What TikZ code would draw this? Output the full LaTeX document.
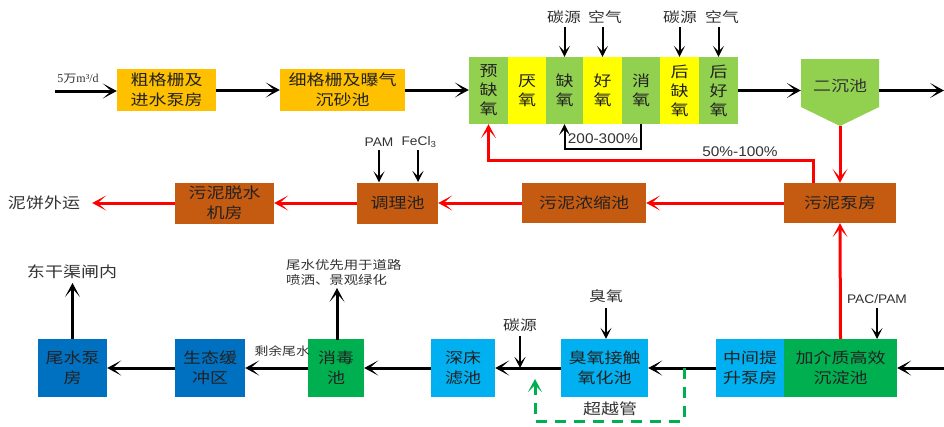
\documentclass[tikz,border=0pt]{standalone}
\usepackage{fontspec}
\newfontfamily\cjk[FakeStretch=1.2]{Noto Sans CJK SC}
\newfontfamily\latin[FakeStretch=1.1]{Liberation Sans}
\newfontfamily\serifl{Liberation Serif}
\usetikzlibrary{arrows.meta}
\definecolor{orangeY}{HTML}{FFC000}
\definecolor{lgreen}{HTML}{92D050}
\definecolor{yel}{HTML}{FFFF00}
\definecolor{brownb}{HTML}{C55A11}
\definecolor{lblue}{HTML}{00B0F0}
\definecolor{dgreen}{HTML}{00B050}
\definecolor{dblue}{HTML}{0070C0}
\definecolor{txt}{HTML}{222222}
\definecolor{lbl}{HTML}{333333}
\tikzset{
  box/.style={draw=none, inner sep=0pt, align=center, text=txt,
    font=\cjk\fontsize{15}{20}\selectfont},
  cell/.style={box, minimum height=67pt, font=\cjk\fontsize{15}{19}\selectfont},
  lab/.style={inner sep=0pt, text=lbl, align=center, font=\cjk\fontsize{14}{18}\selectfont},
  smalllab/.style={inner sep=0pt, text=lbl, align=left, font=\cjk\fontsize{12}{15}\selectfont},
  latlab/.style={inner sep=0pt, text=lbl, font=\latin\fontsize{12.5}{14}\selectfont},
  bigarr/.style={line width=3pt, -{Stealth[length=14pt,width=15pt,inset=8.5pt]}},
  redarr/.style={bigarr, draw=red, color=red},
  redline/.style={line width=3pt, draw=red},
  smallarr/.style={line width=2pt, -{Stealth[length=11pt,width=11pt,inset=5.5pt]}},
  bypass/.style={line width=3pt, draw=dgreen, dash pattern=on 11pt off 8pt,
    -{Stealth[length=13pt,width=14pt,inset=7pt,color=dgreen]}}
}
\begin{document}
\begin{tikzpicture}[x=1pt,y=-1pt]
\useasboundingbox (0,0) rectangle (944,426);
\fill[white] (0,0) rectangle (944,426);

% ---- top row ----
\node[latlab, font=\serifl\fontsize{12}{14}\selectfont] (inflow) at (78,79) {5{\cjk\fontsize{11}{12}\selectfont 万}m³/d};
\coordinate (inL) at (55,91);
\node[box, fill=orangeY, minimum width=99pt, minimum height=42pt] (cu) at (166.5,90) {粗格栅及\\进水泵房};
\node[box, fill=orangeY, minimum width=125pt, minimum height=42pt] (xi) at (342.5,90) {细格栅及曝气\\沉砂池};

\node[cell, fill=lgreen, minimum width=39pt] (a1) at (488.5,90.5) {预\\缺\\氧};
\node[cell, fill=yel,    minimum width=38pt] (a2) at (527,90.5) {厌\\氧};
\node[cell, fill=lgreen, minimum width=37pt] (a3) at (564.5,90.5) {缺\\氧};
\node[cell, fill=yel,    minimum width=39pt] (a4) at (602.5,90.5) {好\\氧};
\node[cell, fill=lgreen, minimum width=38pt] (a5) at (641,90.5) {消\\氧};
\node[cell, fill=yel,    minimum width=39pt] (a6) at (679.5,90.5) {后\\缺\\氧};
\node[cell, fill=lgreen, minimum width=39pt] (a7) at (718.5,90.5) {后\\好\\氧};

\node[lab] (c1) at (564,17) {碳源};
\node[lab] (k1) at (605,17) {空气};
\node[lab] (c2) at (680,17) {碳源};
\node[lab] (k2) at (722,17) {空气};
\draw[smallarr] (a3.north |- 0,27) -- (a3.north);
\draw[smallarr] (a4.north |- 0,27) -- (a4.north);
\draw[smallarr] (a6.north |- 0,27) -- (a6.north);
\draw[smallarr] (a7.north |- 0,27) -- (a7.north);

% internal recycle
\draw[smallarr] (a5.south) -- ++(0,25) -| (a3.south);
\node[latlab, font=\latin\fontsize{14}{16}\selectfont] (r1) at (603,139) {200-300\%};

% secondary clarifier
\fill[lgreen] (801,59) -- (879,59) -- (879,107) -- (840,126) -- (801,107) -- cycle;
\node[box, text=lbl, minimum width=78pt, minimum height=54pt] (er) at (840,86) {二沉池};
\coordinate (tip) at (840,126);
\coordinate (outR) at (944,90.5);

\draw[bigarr] (inL) -- (inL -| cu.west);
\draw[bigarr] (cu.east) -- (xi.west);
\draw[bigarr] (xi.east) -- (xi.east -| a1.west);
\draw[bigarr] (a7.east) -- (a7.east -| er.west);
\draw[bigarr] (er.east |- outR) -- (outR);

% ---- sludge row ----
\node[box, fill=brownb, minimum width=112pt, minimum height=40pt] (wn) at (840,203) {污泥泵房};
\node[box, fill=brownb, minimum width=124pt, minimum height=40pt] (ns) at (584,203) {污泥浓缩池};
\node[box, fill=brownb, minimum width=81pt, minimum height=41pt] (tl) at (397.5,203) {调理池};
\node[box, fill=brownb, minimum width=99pt, minimum height=41pt] (ts) at (224.5,203) {污泥脱水\\机房};
\node[lab, font=\cjk\fontsize{15}{18}\selectfont] (nb) at (44,203) {泥饼外运};

\draw[redarr] (tip) -- (wn.north);
\draw[redarr] ([xshift=-27pt]wn.north) -- ++(0,-22) -| (a1.south);
\node[latlab, font=\latin\fontsize{14}{16}\selectfont] (r2) at (740,152) {50\%-100\%};
\draw[redarr] (wn.west) -- (ns.east);
\draw[redarr] (ns.west) -- (tl.east);
\draw[redarr] (tl.west) -- (ts.east);
\draw[redarr] (ts.west) -- ([xshift=12pt]nb.east);

\node[latlab] (pam) at (379,142) {PAM};
\node[latlab] (fecl) at (419,142) {FeCl\textsubscript{3}};
\coordinate (fct) at (418,182);
\draw[smallarr] (pam.south |- 0,150) -- (pam.south |- tl.north);
\draw[smallarr] (fct |- 0,150) -- (fct);

% ---- bottom row ----
\node[box, fill=dgreen, minimum width=113pt, minimum height=58pt] (jj) at (840.5,368) {加介质高效\\沉淀池};
\node[box, fill=lblue, minimum width=68pt, minimum height=58pt] (zj) at (750,368) {中间提\\升泵房};
\node[box, fill=lblue, minimum width=87pt, minimum height=58pt] (cy) at (604.5,368) {臭氧接触\\氧化池};
\node[box, fill=lblue, minimum width=64pt, minimum height=58pt] (sc) at (463,368) {深床\\滤池};
\node[box, fill=dgreen, minimum width=56pt, minimum height=58pt] (xd) at (336,368) {消毒\\池};
\node[box, fill=dblue, minimum width=70pt, minimum height=58pt] (st) at (210,368) {生态缓\\冲区};
\node[box, fill=dblue, minimum width=69pt, minimum height=58pt] (ws) at (72.5,368) {尾水泵\\房};

\coordinate (inR) at (944,368);
\draw[bigarr] (inR) -- (jj.east);
\draw[redarr] (jj.north) -- (wn.south);
\draw[bigarr] (zj.west) -- (cy.east);
\draw[bigarr] (cy.west) -- (sc.east);
\draw[bigarr] (sc.west) -- (xd.east);
\draw[bigarr] (xd.west) -- (st.east);
\draw[bigarr] (st.west) -- (ws.east);

\node[latlab] (pac) at (877,299) {PAC/PAM};
\coordinate (pact) at (877,339);
\draw[smallarr] (pact |- 0,308) -- (pact);
\node[lab] (cyo) at (606,296) {臭氧};
\draw[smallarr] (cyo.south |- 0,308) -- (cyo.south |- cy.north);
\node[lab] (c3) at (520,325) {碳源};
\coordinate (c3t) at (520,368);
\draw[smallarr] (c3.south |- 0,336) -- (c3t);

\coordinate (bpA) at (684,368);
\coordinate (bpB) at (535,379);
\draw[bypass] (bpA) -- (684,421) -- (535,421) -- (bpB);
\node[lab, font=\cjk\fontsize{15}{18}\selectfont] (cyg) at (610,409) {超越管};

\node[smalllab, anchor=east, font=\cjk\fontsize{11.5}{14}\selectfont] (sy) at (310,351) {剩余尾水};
\node[lab, font=\cjk\fontsize{15}{18}\selectfont] (dg) at (72,272) {东干渠闸内};
\draw[bigarr] (ws.north) -- (72.5,283);
\node[smalllab, anchor=west] (wy) at (286,272) {尾水优先用于道路\\喷洒、景观绿化};
\draw[bigarr] (337,340) -- (337,288);
\end{tikzpicture}
\end{document}
